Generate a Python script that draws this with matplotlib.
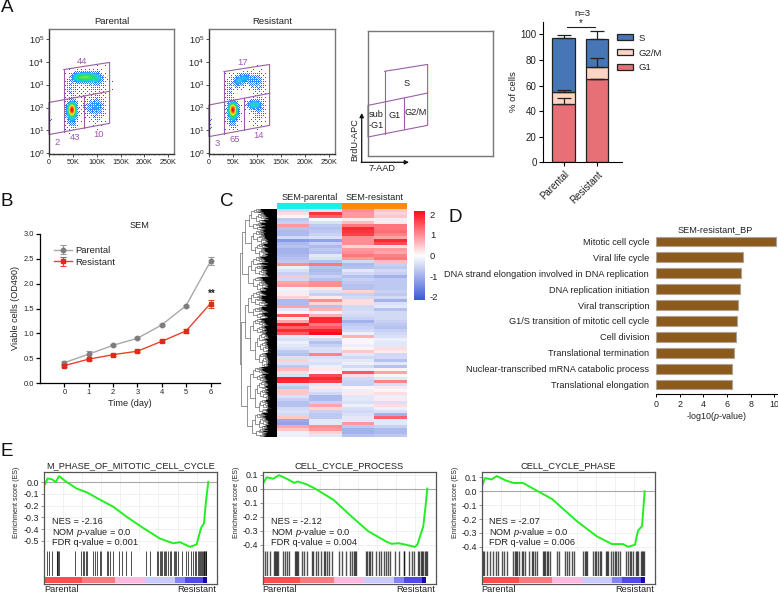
import matplotlib
matplotlib.use("Agg")
import matplotlib.pyplot as plt
import numpy as np
from matplotlib.colors import LinearSegmentedColormap, Normalize
from matplotlib.collections import LineCollection

plt.rcParams['font.family'] = ['Liberation Sans', 'DejaVu Sans']
plt.rcParams['mathtext.fontset'] = 'custom'
plt.rcParams['mathtext.rm'] = 'Liberation Sans'
plt.rcParams['mathtext.it'] = 'Liberation Sans:italic'
plt.rcParams['text.color'] = '#222222'
plt.rcParams['axes.labelcolor'] = '#222222'
plt.rcParams['xtick.labelcolor'] = '#222222'
plt.rcParams['ytick.labelcolor'] = '#222222'

W, H = 778, 594

# --- panel A: flow plots, clusters are x(K), log10 y, sx, sy, weight
flow_titles = ['Parental', 'Resistant']
parental_clusters = [(47, 1.9, 5, .17, 1.0), (47, 1.65, 7, .3, .12), (62, 3.32, 8, .12, .3),
                     (78, 3.34, 9, .12, .34), (95, 3.3, 9, .13, .22), (45, 2.9, 6, .35, .035),
                     (100, 3.0, 14, .4, .025), (85, 2.0, 9, .22, .04), (100, 2.05, 9, .22, .08),
                     (100, 1.65, 10, .3, .022), (65, 2.7, 18, .35, .012), (2, 1.5, 1.5, .4, .03)]
resistant_clusters = [(49, 1.9, 5, .17, 1.0), (49, 1.65, 7, .3, .11), (60, 3.15, 7, .15, .13),
                      (75, 3.3, 9, .13, .11), (95, 3.15, 9, .2, .07), (42, 2.8, 5, .35, .035),
                      (105, 2.9, 9, .38, .02), (93, 2.12, 8, .11, .22), (105, 2.0, 8, .25, .035),
                      (100, 1.65, 10, .3, .02), (2, 1.3, 1.5, .45, .035)]
parental_gates = [[(31, 3.66), (127, 3.97), (127, 1.31), (0, .82), (0, 2.22), (127, 2.71)],
                  [(31, 3.66), (31, .95)], [(73, 2.52), (73, 1.11)]]
resistant_gates = [[(31, 3.57), (126, 3.88), (126, 1.22), (0, .73), (0, 2.11), (126, 2.62)],
                   [(31, 3.57), (31, .86)], [(73, 2.4), (73, 1.0)]]
schematic_gates = [[(35, 3.67), (125, 3.97), (125, 1.31), (0, .8), (0, 2.18), (125, 2.72)],
                   [(35, 3.67), (35, .95)], [(76, 2.52), (76, 1.13)]]
parental_pcts = [('44', 70, 4.02), ('43', 55, .68), ('10', 103, .83), ('2', 17, .47)]
resistant_pcts = [('17', 69, 3.98), ('65', 54, .61), ('14', 102, .76), ('3', 18, .43)]
schematic_labels = [('S', 80, 3.15), ('G1', 55, 1.72), ('G2/M', 100, 1.85), ('sub', 17, 1.78), ('-G1', 17, 1.31)]

flow_xticks = [0, 50, 100, 150, 200, 250]
flow_xlabels = ['0', '50K', '100K', '150K', '200K', '250K']
flow_yticks = [0, 1, 2, 3, 4, 5]

# stacked bars
stack_groups = ['Parental', 'Resistant']
g1_vals = [46, 65]
g2m_vals = [9, 9.3]
s_vals = [42, 22.2]
g1_err = [4, .5]
g2m_err = [1.5, 7]
s_err = [2.5, 6]

# --- panel B
days = [0, 1, 2, 3, 4, 5, 6]
parental_od = [.41, .58, .76, .90, 1.17, 1.56, 2.45]
resistant_od = [.35, .48, .57, .64, .84, 1.05, 1.60]
parental_od_err = [.03, .07, .02, .02, .02, .02, .08]
resistant_od_err = [.02, .02, .02, .02, .02, .04, .08]

# --- panel C: rows of the heat map, top to bottom (parental x2, resistant x2)
heat_rows = [
    [-.5, -.4, 1.0, .5], [.3, 1.8, .9, .4], [.1, 1.4, .9, .5], [-.7, -.1, .2, -.2],
    [-.6, -.4, .6, .2], [.9, -.7, 1.2, 1.2], [-.8, -.8, 1.9, 1.2], [-.9, -.7, 1.8, 1.3],
    [-.9, -.6, 1.7, 1.1], [-.5, -.4, 1.0, .8], [-1.3, -1.2, 1.0, 1.9], [-.9, -.6, 1.0, 1.6],
    [-.8, -.9, .4, .3], [-1, -.7, .9, .9], [-1, -.8, 1.0, .8], [-.9, -.3, 1.2, 1.1],
    [-.8, -.4, .9, 1.2], [-.7, -.8, -.5, .6], [1.0, 1.2, -.9, -.6], [-.2, -.8, -.8, -.7],
    [-.4, -.9, -.3, -.5], [-.6, -.8, -.5, -.6], [.5, -.6, -.8, -1], [-.5, -.8, -.6, -.7],
    [.8, 1.0, -.7, -.7], [.9, 1.0, -.8, -.7], [.1, .2, -.8, -.7], [-.2, -.4, .4, -.6],
    [.2, -.6, -.6, -.7], [.4, .2, -.5, -.5], [-.9, 1.0, .3, -1], [-.9, .4, .3, -.4],
    [.8, -.8, -.5, -.3], [-.3, .7, -.5, -.8], [.1, -.2, -.4, -.5], [1.5, .7, -.5, -.5],
    [.2, 1.9, -.6, -.5], [.8, 1.9, -1, -.6],
    [2, 1.2, -.7, -.7], [1.4, 1.5, -.6, -.8], [1.9, 2, -.5, -.6], [1.5, 2.16, -.2, -.5],
    [-.3, .1, .7, -.4], [-.4, -.5, -.1, -.2], [-.2, -.8, -.1, -.3], [-.3, -.6, -.2, -.3],
    [-.4, -.4, .1, .3], [-.7, -.4, .5, .2], [-.8, 1.1, -.3, -.5], [-.4, -.4, -.5, -.5],
    [.4, -.3, -.3, -.8], [-.4, -.4, -.2, -.3], [-.7, -.2, -.5, -.8], [.6, .2, -.2, .1],
    [.3, -.1, 1.5, .8], [-.4, 1.6, .3, -.1], [2, 1.9, -.5, -.3], [1.9, 1.7, -.6, 1.1],
    [-.5, -.3, -.6, -.4], [-.7, .2, .1, .2], [.5, -.3, -.2, -.1], [.5, -.5, .2, .3],
    [-.4, -.9, -.3, -.2], [-.6, -.9, -.3, .2], [-.8, -.6, -.4, -.4], [-.8, .8, -.2, .3],
    [-.5, .4, -.4, -.2], [-.4, -.6, -.5, -.4], [-.5, -.7, -.4, -1], [.5, -.7, -.3, 1.4],
    [-1.1, -.3, -.3, -.3], [-1.2, -.3, .9, -.3], [.8, 1.0, -.7, -.6], [.5, .9, -1, -.9],
    [-.2, .4, -1, -.9], [-.2, -.3, -.8, -.7],
]
heat_groups = ['SEM-parental', 'SEM-resistant']
cbar_ticks = [2, 1, 0, -1, -2]
dendro_ratios = [.36, .58, .44, .66, .3, .52]

# --- panel D
bp_terms = ['Mitotic cell cycle', 'Viral life cycle', 'DNA strand elongation involved in DNA replication',
            'DNA replication initiation', 'Viral transcription', 'G1/S transition of mitotic cell cycle',
            'Cell division', 'Translational termination', 'Nuclear-transcribed mRNA catabolic process',
            'Translational elongation']
bp_vals = [10.15, 7.32, 7.15, 7.05, 6.9, 6.82, 6.73, 6.62, 6.45, 6.4]

# --- panel E: ES curves (x in % of the rank axis), hits in 520ths of it
es_titles = ['M_PHASE_OF_MITOTIC_CELL_CYCLE', 'CELL_CYCLE_PROCESS', 'CELL_CYCLE_PHASE']
es_stats = [('-2.16', '0.001'), ('-2.12', '0.004'), ('-2.07', '0.006')]
es1_x = [.4, 1.9, 4.2, 6.7, 8.5, 12.9, 18.7, 24.9, 32.2, 39.9, 47.6, 57.2, 66.9, 74.6, 78.4, 84.2, 88, 90.6, 92.3, 93.4, 94.8]
es1_y = [-.02, .03, .025, 0, .05, 0, -.055, -.09, -.15, -.21, -.295, -.39, -.48, -.52, -.51, -.55, -.53, -.39, -.35, -.17, 0]
es2_x = [.4, 2.3, 6.1, 9.4, 13.8, 18.2, 20.2, 25.3, 30.1, 40.7, 51.2, 60.8, 71.4, 74.3, 78.1, 82, 87.7, 89.1, 92.5, 93.9, 94.8]
es2_y = [.04, .08, .07, .095, .07, .04, .05, .03, 0, -.08, -.2, -.305, -.38, -.395, -.39, -.40, -.417, -.4, -.27, -.115, 0]
es3_x = [.3, 1.9, 5.8, 8.7, 13.5, 18.3, 23.9, 32.5, 40.6, 55, 66.6, 75.3, 81.7, 84.6, 88.6, 90.3, 92.7, 93.9, 94.2]
es3_y = [.04, .095, .085, .11, .08, .06, .06, 0, -.055, -.215, -.325, -.38, -.38, -.4, -.385, -.285, -.25, -.05, 0]
es_yticks = [[0, -.1, -.2, -.3, -.4, -.5], [.1, 0, -.1, -.2, -.3, -.4], [.1, 0, -.1, -.2, -.3, -.4]]
es_ylims = [(-.585, .085), (-.446, .118), (-.43, .139)]
hits1 = [7, 13, 22, 37, 39, 42, 44, 93, 110, 115, 119, 125, 129, 146, 152, 159, 167, 171, 187, 192, 197, 205, 225,
         235, 247, 260, 307, 317, 339, 343, 347, 351, 355, 359, 363, 367, 371, 377, 382, 389, 392, 397, 402, 415,
         427, 432, 442, 447, 452, 457, 462, 465, 467, 470, 473, 476, 479, 481, 483, 485, 487]
hits2 = [7, 14, 22, 35, 37, 39, 43, 47, 62, 67, 74, 79, 97, 99, 102, 107, 117, 125, 132, 147, 152, 159, 167, 175,
         184, 188, 192, 199, 207, 229, 237, 249, 262, 267, 272, 277, 280, 309, 313, 317, 322, 327, 339, 347, 355,
         362, 369, 375, 382, 397, 407, 422, 424, 437, 447, 453, 465, 469, 473, 477, 481, 485, 489, 492]
hits3 = [3, 8, 16, 26, 35, 42, 50, 60, 67, 75, 95, 99, 103, 107, 113, 120, 125, 130, 143, 150, 155, 160, 167, 183,
         187, 191, 195, 200, 205, 227, 233, 250, 255, 263, 270, 277, 305, 309, 313, 317, 335, 340, 345, 350, 355,
         360, 373, 377, 381, 390, 395, 400, 405, 410, 417, 435, 440, 445, 450, 455, 463, 467, 471, 480, 483, 486, 489]
strip_edges = [0, 21.6, 40.8, 58.1, 75.5, 81.2, 91.8, 94.3, 100]
strip_colors = ['#fb4d50', '#f97b80', '#fdb9df', '#cbcbfb', '#8383f5', '#5149e6', '#1a04b0', '#ffffff']

PURPLE = '#9a5ea8'
GREY = '#555555'


def ax_px(x0, y0, x1, y1):
    return fig.add_axes([x0 / W, 1 - y1 / H, (x1 - x0) / W, (y1 - y0) / H])


def text_px(x, y, s, **kw):
    kw.setdefault('ha', 'center')
    kw.setdefault('va', 'center')
    return fig.text(x / W, 1 - y / H, s, **kw)


def bayer(n):
    m = np.array([[0.]])
    while m.shape[0] < n:
        m = np.block([[4 * m, 4 * m + 2], [4 * m + 3, 4 * m + 1]])
    return (m + .5) / (n * n)


def flow_density(clusters, nx=126, ny=125):
    xs = np.linspace(0, 262, nx)
    ys = np.linspace(-.03, 5.43, ny)
    gx, gy = np.meshgrid(xs, ys)
    d = np.zeros_like(gx)
    for cx, cy, sx, sy, w in clusters:
        d += w * np.exp(-.5 * ((gx - cx) / sx) ** 2 - .5 * ((gy - cy) / sy) ** 2)
    d /= d.max()
    cm = LinearSegmentedColormap.from_list('flow', ['#3a3aff', '#22c8ff', '#22e060', '#e8f020', '#ff8010', '#f01010'])
    rgba = cm(np.clip(d ** .8, 0, 1))
    tile = bayer(8)
    thr = np.tile(tile, (ny // 8 + 1, nx // 8 + 1))[:ny, :nx]
    rgba[..., 3] = (d * 10 > thr).astype(float)
    return rgba


def draw_gates(ax, gates, lw=.8):
    for g in gates:
        xy = np.array(g)
        ax.plot(xy[:, 0], xy[:, 1], color=PURPLE, lw=lw, solid_joinstyle='miter', clip_on=False)


fig = plt.figure(figsize=(W / 100, H / 100), dpi=100)

# ---------- A ----------
flow_boxes = [(49, 29, 174, 154), (209, 29, 335, 154)]
for box, title, cl, gates, pcts in zip(flow_boxes, flow_titles, [parental_clusters, resistant_clusters],
                                       [parental_gates, resistant_gates], [parental_pcts, resistant_pcts]):
    ax = ax_px(*box)
    ax.imshow(flow_density(cl), extent=(0, 262, -.03, 5.43), origin='lower', aspect='auto', interpolation='nearest')
    draw_gates(ax, gates)
    for s, x, y in pcts:
        ax.text(x, y, s, color=PURPLE, fontsize=6.8, ha='center', va='center')
    ax.set_xlim(0, 262)
    ax.set_ylim(-.03, 5.43)
    ax.set_xticks(flow_xticks)
    ax.set_xticks(np.arange(10, 260, 10), minor=True)
    ax.set_xticklabels(flow_xlabels, fontsize=5.2)
    ax.set_yticks(flow_yticks)
    ax.set_yticklabels(['$\\mathregular{10^{%d}}$' % t for t in flow_yticks], fontsize=6.6)
    ax.tick_params(length=2, width=.6, pad=1.5, color='#333333')
    ax.tick_params(which='minor', length=1, width=.4, color='#333333')
    for sp in ax.spines.values():
        sp.set_color('#777777')
        sp.set_linewidth(1)
    ax.spines['left'].set_color('#333333')
    ax.spines['bottom'].set_color('#333333')
    ax.set_title(title, fontsize=6.8, pad=3.5)

ax = ax_px(368, 31, 493, 156)
draw_gates(ax, schematic_gates)
for s, x, y in schematic_labels:
    ax.text(x, y, s, fontsize=6.6, ha='center', va='center')
ax.set_xlim(0, 262)
ax.set_ylim(-.03, 5.43)
ax.set_xticks([])
ax.set_yticks([])
for sp in ax.spines.values():
    sp.set_color('#777777')
    sp.set_linewidth(1)
overlay = fig.add_axes([0, 0, 1, 1], facecolor='none', zorder=5)
overlay.set_xlim(0, W)
overlay.set_ylim(H, 0)
overlay.axis('off')
overlay.annotate('', xy=(361.7, 113), xytext=(361.7, 162.5),
                 arrowprops=dict(arrowstyle='-|>', lw=.9, color='#111111', mutation_scale=6, shrinkA=0, shrinkB=0))
overlay.annotate('', xy=(409, 162.3), xytext=(361.2, 162.3),
                 arrowprops=dict(arrowstyle='-|>', lw=.9, color='#111111', mutation_scale=6, shrinkA=0, shrinkB=0))
text_px(355, 140, 'BrdU-APC', fontsize=6.6, rotation=90)
text_px(382, 168.5, '7-AAD', fontsize=6.6)

ax = ax_px(543, 21.7, 622, 162.3)
pos = [.0, 1.0]
bw = .68
edge = dict(edgecolor='#222222', linewidth=.9)
ax.bar(pos, g1_vals, bw, color='#e76f76', **edge, label='G1')
ax.bar(pos, g2m_vals, bw, bottom=g1_vals, color='#fdd4c3', **edge, label='G2/M')
g1g2 = np.add(g1_vals, g2m_vals)
ax.bar(pos, s_vals, bw, bottom=g1g2, color='#4676b6', **edge, label='S')
for tops, err in [(g1_vals, g1_err), (g1g2, g2m_err), (g1g2 + np.array(s_vals), s_err)]:
    ax.errorbar(pos, tops, yerr=[np.zeros(2), err], fmt='none', ecolor='#222222', elinewidth=.9, capsize=5, capthick=.9)
ax.set_xlim(-.62, 1.75)
ax.set_ylim(0, 110)
ax.set_yticks([0, 20, 40, 60, 80, 100])
ax.set_xticks(pos)
ax.set_xticklabels(stack_groups, rotation=45, ha='right', rotation_mode='anchor', fontsize=7)
ax.set_ylabel('% of cells', fontsize=6.8, labelpad=2)
ax.tick_params(axis='y', labelsize=7, length=3, width=.8, pad=1.5)
ax.tick_params(axis='x', length=3, width=.8, pad=2)
ax.spines['top'].set_visible(False)
ax.spines['right'].set_visible(False)
ax.plot([.09, .95], [105.8, 105.8], color='#222222', lw=.8, clip_on=False)
ax.text(.52, 109, '*', fontsize=7, ha='center', va='center')
text_px(582, 13, 'n=3', fontsize=6.8)
handles, labels = ax.get_legend_handles_labels()
ax.legend(handles[::-1], labels[::-1], loc='upper left', bbox_to_anchor=(.937, .915), frameon=False, fontsize=6.8,
          handlelength=1.65, handleheight=.62, handletextpad=.6, labelspacing=.62, borderpad=0, borderaxespad=0)

# ---------- B ----------
ax = ax_px(40, 234, 220, 383)
ax.errorbar(days, parental_od, yerr=parental_od_err, color='#a8a8a8', lw=1, marker='o', ms=3.2, mfc='#7d7d7d',
            mec='#7d7d7d', ecolor='#9a9a9a', elinewidth=.8, capsize=2, capthick=.8, label='Parental', clip_on=False)
ax.errorbar(days, resistant_od, yerr=resistant_od_err, color='#e8432d', lw=1, marker='s', ms=3.2, mfc='#e02a1c',
            mec='#e02a1c', ecolor='#e8432d', elinewidth=.8, capsize=2, capthick=.8, label='Resistant', clip_on=False)
ax.set_xlim(-1, 6.39)
ax.set_ylim(0, 3)
ax.set_xticks(days)
ax.set_yticks([0, .5, 1, 1.5, 2, 2.5, 3])
ax.set_yticklabels(['0.0', '0.5', '1.0', '1.5', '2.0', '2.5', '3.0'])
ax.tick_params(labelsize=5.4, length=3, width=.9, pad=1.5)
ax.spines['top'].set_visible(False)
ax.spines['right'].set_visible(False)
ax.spines['left'].set_linewidth(.9)
ax.spines['bottom'].set_linewidth(.9)
ax.set_xlabel('Time (day)', fontsize=6.6, labelpad=2)
ax.set_ylabel('Viable cells (OD490)', fontsize=6.6, labelpad=2)
ax.text(6.04, 1.79, '**', fontsize=7, ha='center', va='center', fontweight='bold')
text_px(139, 225, 'SEM', fontsize=6.6)
ax.legend(loc='upper left', bbox_to_anchor=(.078, .92), frameon=False, fontsize=6.8, handlelength=1.9,
          handletextpad=.3, labelspacing=.3, borderpad=0, borderaxespad=0)

# ---------- C ----------
heat_cmap = LinearSegmentedColormap.from_list('heat', ['#3a5bd6', '#ffffff', '#ff0d1a'])
heat_norm = Normalize(-2.16, 2.16)
ax = ax_px(277, 209, 407, 437)
ax.imshow(np.array(heat_rows), cmap=heat_cmap, norm=heat_norm, aspect='auto', interpolation='nearest')
ax.axis('off')
ax = ax_px(277, 203, 407, 209)
ax.barh(0, 1, left=0, height=1, color='#19eef0')
ax.barh(0, 1, left=1, height=1, color='#ff8a0a')
ax.set_xlim(0, 2)
ax.set_ylim(-.5, .5)
ax.axis('off')
text_px(310, 198, heat_groups[0], fontsize=6.6)
text_px(375, 198, heat_groups[1], fontsize=6.6)

ax = ax_px(414, 211, 425, 300)
ax.imshow(np.linspace(2.16, -2.16, 128).reshape(-1, 1), cmap=heat_cmap, norm=heat_norm, aspect='auto',
          extent=(0, 1, -2.16, 2.16))
ax.set_xticks([])
ax.yaxis.tick_right()
ax.set_yticks(cbar_ticks)
ax.set_yticklabels(['2', '1', '0', '-1', '-2'], fontsize=6.8)
ax.tick_params(length=0, pad=3.5)
for sp in ax.spines.values():
    sp.set_visible(False)

# dendrogram, recursive brackets that get denser toward the heat map
dendro_segs = []
dendro_fine = []


def dendro(lo, hi, x, depth):
    mid = (lo + hi) / 2
    if hi - lo < .75 or depth > 11:
        dendro_fine.append([(x, mid), (1, mid)])
        return mid
    r = dendro_ratios[(depth + int(lo)) % len(dendro_ratios)]
    cut = lo + (hi - lo) * r
    nx1 = x + (1 - x) * (.1 if depth else .05)
    nx2 = x + (1 - x) * (.17 if depth else .03)
    m1 = dendro(lo, cut, nx1, depth + 1)
    m2 = dendro(cut, hi, nx2, depth + 1)
    dendro_segs.append([(nx1, m1), (x, m1), (x, m2), (nx2, m2)])
    return (m1 + m2) / 2


ax = ax_px(240, 209, 277, 437)
dendro(0, 228, 0, 0)
ax.add_collection(LineCollection(dendro_segs, colors='#444444', linewidths=.4))
ax.add_collection(LineCollection(dendro_fine, colors='#000000', linewidths=.8))
ax.axvspan(.76, 1, color='black', lw=0)
ax.set_xlim(0, 1)
ax.set_ylim(228, 0)
ax.axis('off')

# ---------- D ----------
ax = ax_px(656, 232, 778, 394)
ypos = np.arange(len(bp_terms))
ax.barh(ypos, bp_vals, height=.62, color='#8c5a1c', edgecolor='#a9a39a', linewidth=.8, clip_on=False)
ax.set_ylim(9.6, -.6)
ax.set_xlim(0, 10.3)
ax.set_xticks([0, 2, 4, 6, 8, 10])
ax.set_yticks(ypos)
ax.set_yticklabels(bp_terms, fontsize=6.6)
ax.tick_params(axis='y', length=0, pad=5)
ax.tick_params(axis='x', labelsize=6.4, length=2.5, width=.7, pad=1.5)
for name in ['top', 'right', 'left']:
    ax.spines[name].set_visible(False)
ax.set_xlabel('-log10($\\mathit{p}$-value)', fontsize=6.4, labelpad=1)
text_px(715, 229.5, 'SEM-resistant_BP', fontsize=6.6)

# ---------- E ----------
es_lefts = [(44.3, 217.3), (262.7, 436.3), (481.7, 654.7)]
es_curves = [(es1_x, es1_y), (es2_x, es2_y), (es3_x, es3_y)]
es_hits = [hits1, hits2, hits3]
es_ylabel_x = [17, 237, 455.5]
es_hit_lw = [.75, 1.0, 1.0]
for i in range(3):
    x0, x1 = es_lefts[i]
    ax = ax_px(x0, 472, x1, 551)
    ax.grid(True, color='#ececec', lw=.5)
    ax.set_axisbelow(True)
    ax.axhline(0, color='#a8a8a8', lw=.8)
    ax.plot(es_curves[i][0], es_curves[i][1], color='#22ee22', lw=1.4)
    ax.set_xlim(0, 100)
    ax.set_ylim(*es_ylims[i])
    ax.set_xticks([11, 22, 33, 44, 55, 66, 77, 88])
    ax.set_xticklabels([])
    ax.set_yticks(es_yticks[i])
    ax.set_yticklabels(['%.1f' % t for t in es_yticks[i]], fontsize=6.4)
    ax.tick_params(axis='x', length=0)
    ax.tick_params(axis='y', length=2, width=.5, pad=1.5, color='#666666')
    for name in ['left', 'right', 'top']:
        ax.spines[name].set_color(GREY)
        ax.spines[name].set_linewidth(.9)
    ax.spines['bottom'].set_color('#999999')
    ax.spines['bottom'].set_linewidth(.5)
    ax.text(.045, .37, 'NES = %s' % es_stats[i][0], transform=ax.transAxes, fontsize=6.7, va='center')
    ax.text(.045, .24, 'NOM $\\mathit{p}$-value = 0.0', transform=ax.transAxes, fontsize=6.7, va='center')
    ax.text(.045, .11, 'FDR q-value = %s' % es_stats[i][1], transform=ax.transAxes, fontsize=6.7, va='center')
    ax.set_title(es_titles[i], fontsize=6.7, pad=2.5)
    text_px(es_ylabel_x[i], 502, 'Enrichment score (ES)', fontsize=5, rotation=90)

    hx = ax_px(x0, 551, x1, 576)
    hx.vlines(np.array(es_hits[i]) / 5.2, 0, 1, color='black', lw=es_hit_lw[i], alpha=.68)
    hx.set_xlim(0, 100)
    hx.set_ylim(0, 1)
    hx.set_xticks([])
    hx.set_yticks([])
    for name in ['left', 'right']:
        hx.spines[name].set_color(GREY)
        hx.spines[name].set_linewidth(.9)
    hx.spines['top'].set_visible(False)
    hx.spines['bottom'].set_color('#bbbbbb')
    hx.spines['bottom'].set_linewidth(.5)

    sx = ax_px(x0, 576, x1, 584)
    for a, b, c in zip(strip_edges[:-1], strip_edges[1:], strip_colors):
        sx.axvspan(a, b, ymin=.08, ymax=.92, color=c, lw=0)
    sx.set_xlim(0, 100)
    sx.set_xticks([])
    sx.set_yticks([])
    for name in ['left', 'right', 'bottom']:
        sx.spines[name].set_color(GREY)
        sx.spines[name].set_linewidth(.9)
    sx.spines['top'].set_visible(False)
    text_px(x0, 589, 'Parental', fontsize=6.7, ha='left')
    text_px(x1 - 1, 589, 'Resistant', fontsize=6.7, ha='right')

# panel letters
for s, x, y in [('A', 1, 7), ('B', 1, 201), ('C', 220, 201), ('D', 449, 218), ('E', 1, 451)]:
    text_px(x, y, s, fontsize=13.5, ha='left', color='#111111')

fig.savefig('out.png', dpi=100)
